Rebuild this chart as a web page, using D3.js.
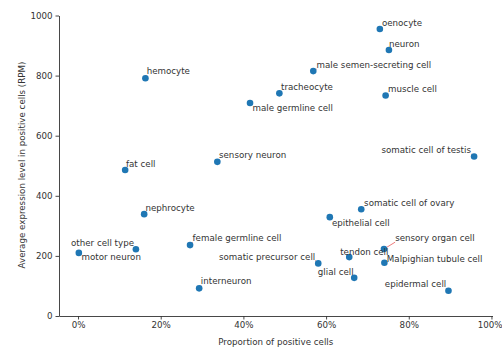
<!DOCTYPE html>
<html><head><meta charset="utf-8">
<script src="https://cdn.jsdelivr.net/npm/d3@7/dist/d3.min.js"></script>
<style>body{margin:0;background:#fff}svg{display:block}text{font-family:"DejaVu Sans",sans-serif}</style>
</head><body><svg id="c" width="502" height="348"></svg>
<script>
const cellTypes = ["oenocyte","neuron","male semen-secreting cell","tracheocyte","male germline cell","muscle cell","somatic cell of testis","hemocyte","sensory neuron","fat cell","nephrocyte","other cell type","motor neuron","female germline cell","interneuron","somatic cell of ovary","epithelial cell","sensory organ cell","tendon cell","Malpighian tubule cell","somatic precursor cell","glial cell","epidermal cell"];
const proportion = [0.730,0.752,0.569,0.487,0.416,0.744,0.958,0.163,0.337,0.114,0.160,0.140,0.002,0.271,0.293,0.685,0.609,0.740,0.656,0.741,0.581,0.668,0.896];
const expression = [955,885,815,741,709,734,531,791,513,486,339,222,210,236,92,355,329,223,196,177,175,127,84];
// label anchor placement (data units, as produced by text repulsion)
const labelX = [0.735,0.752,0.577,0.491,0.422,0.750,0.734,0.166,0.341,0.116,0.163,-0.017,0.0085,0.277,0.297,0.692,0.614,0.767,0.634,0.747,0.341,0.580,0.742];
const labelY = [975,905,835,762,692,755,552,814,536,506,359,242,195,259,115,375,310,259,213,189,198,147,105];
const xTicks = [0,0.2,0.4,0.6,0.8,1.0];
const yTicks = [0,200,400,600,800,1000];

const svg = d3.select("#c");
const x = d3.scaleLinear().domain([-0.046,1.0025]).range([59,492.5]);
const y = d3.scaleLinear().domain([0,1000]).range([316,15.5]);
const fs = 8.7, ink = "#333";

const gx = svg.append("g").attr("transform","translate(0,316)")
  .call(d3.axisBottom(x).tickValues(xTicks).tickFormat(d3.format(".0%")).tickSize(3.5).tickPadding(2.5).tickSizeOuter(0));
const gy = svg.append("g").attr("transform","translate(59,0)")
  .call(d3.axisLeft(y).tickValues(yTicks).tickFormat(d3.format("d")).tickSize(3.5).tickPadding(3).tickSizeOuter(0));
[gx,gy].forEach(g=>{
  g.selectAll("path,line").attr("stroke",ink).attr("stroke-width",0.9);
  g.selectAll("text").attr("font-size",fs).attr("fill",ink).attr("font-family","DejaVu Sans");
});
gx.selectAll(".tick text").filter(d=>d===1).attr("dx",-1.8);
svg.append("text").attr("x",(59+492.5)/2).attr("y",341.7).attr("dominant-baseline","central")
  .attr("text-anchor","middle").attr("font-size",fs).attr("fill",ink).text("Proportion of positive cells");
svg.append("text").attr("transform","translate(22,165) rotate(-90)").attr("dominant-baseline","central")
  .attr("text-anchor","middle").attr("font-size",fs).attr("fill",ink).text("Average expression level in positive cells (RPM)");

const data = cellTypes.map((n,i)=>({n,px:proportion[i],e:expression[i],lx:labelX[i],ly:labelY[i]}));
const arrows = svg.append("g");
const labels = svg.append("g").selectAll("text").data(data).join("text")
  .attr("x",d=>x(d.lx)).attr("y",d=>y(d.ly)).attr("dominant-baseline","central")
  .attr("font-size",fs).attr("fill",ink).text(d=>d.n);
labels.each(function(d){
  const b = this.getBBox();
  const cx = x(d.px), cy = y(d.e);
  const nx = Math.max(b.x, Math.min(cx, b.x+b.width));
  const ny = Math.max(b.y+1, Math.min(cy, b.y+b.height-1));
  const dist = Math.hypot(cx-nx, cy-ny);
  if (dist > 1.5) {
    arrows.append("line").attr("x1",nx).attr("y1",ny).attr("x2",cx).attr("y2",cy)
      .attr("stroke","#e8595a").attr("stroke-width",0.8);
  }
});
svg.append("g").selectAll("circle").data(data).join("circle")
  .attr("cx",d=>x(d.px)).attr("cy",d=>y(d.e)).attr("r",3.3).attr("fill","#1f77b4");
svg.node().appendChild(labels.node().parentNode);
</script></body></html>
